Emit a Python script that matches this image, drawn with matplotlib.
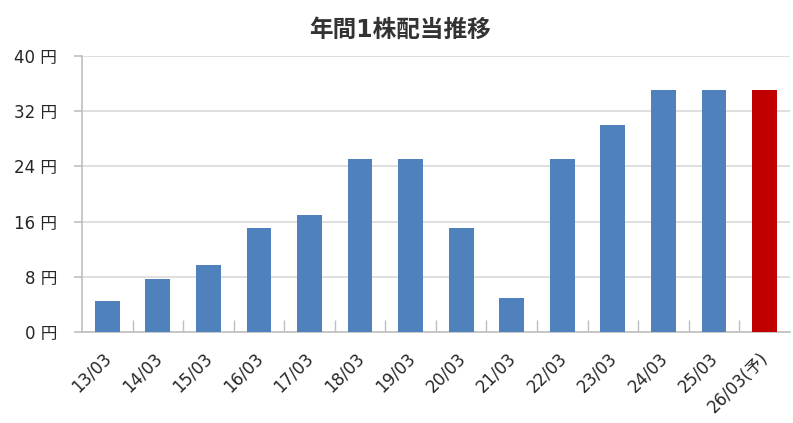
import numpy as np
import matplotlib
matplotlib.use('Agg')
import matplotlib.pyplot as plt
import matplotlib.transforms as mtransforms
from matplotlib.ticker import FixedLocator

plt.rcParams['font.family'] = ['DejaVu Sans', 'Noto Sans CJK JP']

# data
years = ['13/03', '14/03', '15/03', '16/03', '17/03', '18/03', '19/03',
         '20/03', '21/03', '22/03', '23/03', '24/03', '25/03', '26/03(予)']
dividends = [4.5, 7.75, 9.75, 15, 17, 25, 25, 15, 5, 25, 30, 35, 35, 35]
is_forecast = [False] * 13 + [True]
y_ticks = [0, 8, 16, 24, 32, 40]

blue = '#4F81BD'
red = '#C00000'
grid_col = '#D9D9D9'
axis_col = '#BFBFBF'
text_col = '#262626'

fig = plt.figure(figsize=(7.93, 4.23), dpi=100)
ax = fig.add_axes([0.1034, 0.215, 0.8926, 0.653])

x = np.arange(len(years))
colors = [red if f else blue for f in is_forecast]
ax.bar(x, dividends, width=0.49, color=colors, zorder=3)

ax.set_xlim(-0.5, len(years) - 0.5)
ax.set_ylim(0, 40)
ax.set_yticks(y_ticks)
ax.set_yticklabels([f'{v} 円' for v in y_ticks], fontsize=12, color=text_col)
ax.yaxis.grid(True, color=grid_col, linewidth=1.2, zorder=0)

ax.set_xticks(x)
ax.set_xticklabels(years, rotation=45, ha='right', rotation_mode='anchor',
                   fontsize=12, color=text_col)
ax.tick_params(axis='x', which='major', length=0, pad=12)
# nudge rotated labels a bit to the left, like the original
shift = mtransforms.ScaledTranslation(-5 / 100, 0, fig.dpi_scale_trans)
for lbl in ax.get_xticklabels():
    lbl.set_transform(lbl.get_transform() + shift)
ax.xaxis.set_minor_locator(FixedLocator(np.arange(0.5, len(years) - 0.5, 1)))
ax.tick_params(axis='x', which='minor', direction='in', length=8.5, color=axis_col, width=1)
ax.tick_params(axis='y', length=6, color=axis_col, width=1.2, pad=12)

for s in ['top', 'right']:
    ax.spines[s].set_visible(False)
for s in ['left', 'bottom']:
    ax.spines[s].set_color(axis_col)
    ax.spines[s].set_linewidth(1.2)

fig.text(0.505, 0.93, '年間1株配当推移', ha='center', va='center', fontsize=17,
         fontweight='bold', color='#333333')

fig.savefig('out.png', dpi=100)
